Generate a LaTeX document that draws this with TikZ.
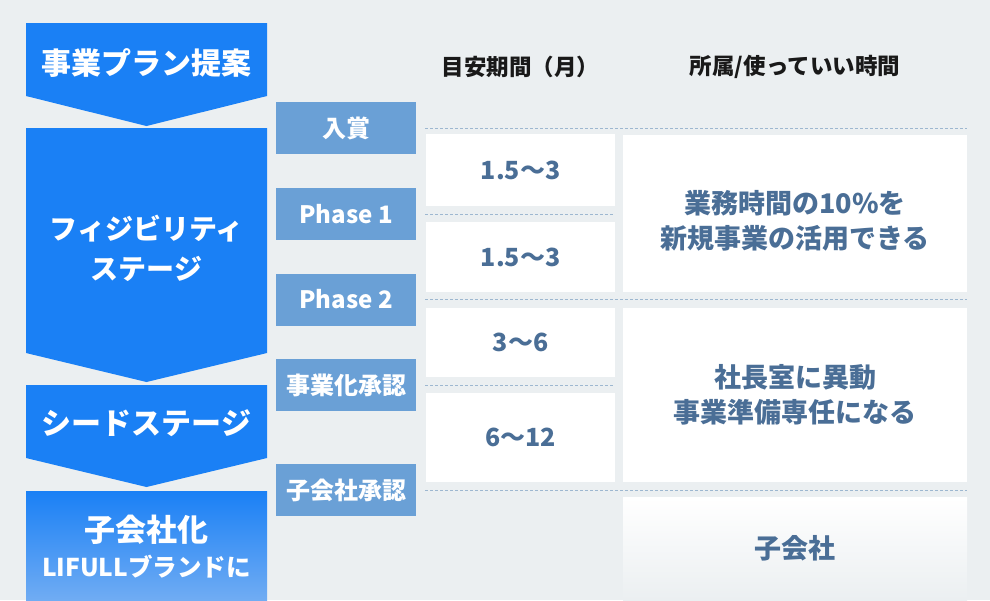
\documentclass[tikz,border=0pt]{standalone}
\usepackage{fontspec}
\setmainfont{Noto Sans CJK JP}
\usetikzlibrary{positioning}
\usetikzlibrary{calc}

\definecolor{stageblue}{HTML}{1A80F5}
\definecolor{stagelight}{HTML}{70ACF3}
\definecolor{phaseblue}{HTML}{6AA0D6}
\definecolor{valtext}{HTML}{4A6E96}
\definecolor{bggray}{HTML}{EBEFF1}
\definecolor{dotblue}{HTML}{9DB7D0}

\begin{document}
\begin{tikzpicture}[
    x=1pt,
    y=-1pt,
    every node/.style={inner sep=0pt}
]
\tikzstyle{stage}=[fill=stageblue]
\tikzstyle{stagetext}=[text=white, align=center, font=\fontsize{30}{40}\selectfont\bfseries]
\tikzstyle{phase}=[fill=phaseblue, text=white, minimum width=140pt, minimum height=52pt, font=\fontsize{24}{28}\selectfont\bfseries]
\tikzstyle{cell}=[fill=white, text=valtext, align=center, font=\fontsize{27}{35}\selectfont\bfseries]
\tikzstyle{num}=[cell, minimum width=189pt, font=\fontsize{25}{30}\selectfont\bfseries]
\tikzstyle{head}=[text=black!90, font=\fontsize{22.5}{26}\selectfont\bfseries]
\tikzstyle{sepline}=[draw=dotblue, line width=0.8pt, dash pattern=on 3pt off 2pt, shorten <=9pt]

\useasboundingbox (0,0) rectangle (990,600);
\fill[bggray] (0,0) rectangle (990,600);

% Stages
\foreach \t/\b/\p in {23/96/126, 128/353/382, 385/458/487}
  \fill[stage] (26,\t) -- (267,\t) -- (267,\b) -- (146.5,\p) -- (26,\b) -- cycle;
\fill[top color=stageblue, bottom color=stagelight] (26,491) rectangle (267,600);

\node[stagetext] (plan) at (146.5,63) {事業プラン提案};
\node[stagetext, font=\fontsize{28}{40}\selectfont\bfseries] (feas) at (146.5,248) {フィジビリティ\\ステージ};
\node[stagetext] (seed) at (146.5,423) {シードステージ};
\node[stagetext, font=\fontsize{31}{35}\selectfont\bfseries] (sub) at (146.5,547) {子会社化\\{\fontsize{24.5}{35}\selectfont LIFULLブランドに}};

% Milestones
\node[phase] (award) at (346,128) {入賞};
\node[phase] (ph1) at (346,214) {Phase 1};
\node[phase] (ph2) at (346,299.5) {Phase 2};
\node[phase] (biz) at (346,385) {事業化承認};
\node[phase] (subok) at (346,490) {子会社承認};

% Columns
\coordinate (colL) at (615,0);
\coordinate (colR) at (967,0);
\node[head] (hterm) at (520.5,67) {目安期間（月）};
\node[head] (hrole) at (795,67) {所属/使っていい時間};

\node[num, minimum height=72pt] (m1) at (520.5,170) {1.5～3};
\node[num, minimum height=70pt] (m2) at (520.5,257) {1.5～3};
\node[num, minimum height=69pt] (m3) at (520.5,342.5) {3～6};
\node[num, minimum height=89pt] (m4) at (520.5,437.5) {6～12};

\node[cell, minimum width=344pt, minimum height=157pt] (r1) at (795,213.5) {};
\node[cell] (r1t) at (795,221) {業務時間の10\%を\\新規事業の活用できる};
\node[cell, minimum width=344pt, minimum height=174pt] (r2) at (795,395) {社長室に異動\\事業準備専任になる};
\node[cell, top color=white, bottom color=bggray, minimum width=344pt, minimum height=103pt] (r3) at (795,548.5) {子会社};

% Separators
\foreach \n/\e in {award/colR, ph1/colL, ph2/colR, biz/colL, subok/colR}
  \draw[sepline] (\n.east) -- (\n.east -| \e);

\end{tikzpicture}
\end{document}
